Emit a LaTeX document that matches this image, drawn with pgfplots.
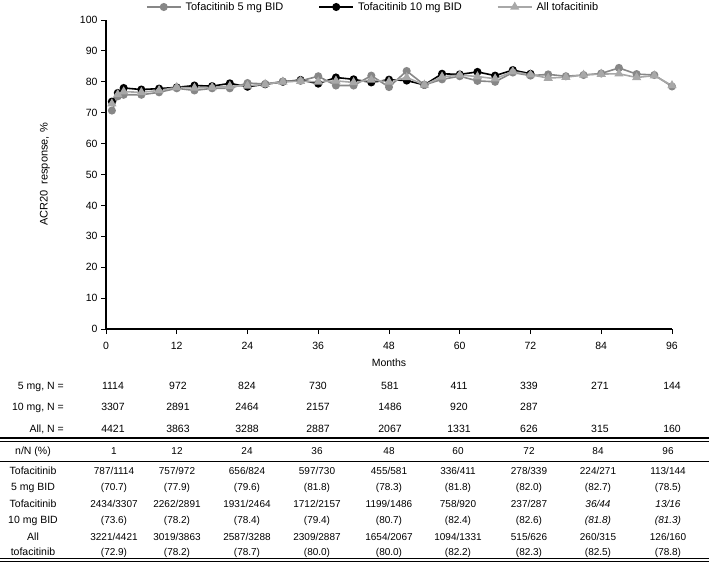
\documentclass[border=0pt]{standalone}
\usepackage{fontspec}
\setmainfont{Liberation Sans}
\usepackage{pgfplots}
\pgfplotsset{compat=1.18}
\definecolor{gfive}{gray}{0.53}
\definecolor{gall}{gray}{0.66}

\pgfplotstableread{
m v
1 70.7
2 75.3
3 75.8
6 75.8
9 76.6
12 77.9
15 77.2
18 77.9
21 77.9
24 79.6
27 79.3
30 80.1
33 80.3
36 81.8
39 78.8
42 78.8
45 82.0
48 78.3
51 83.5
54 79.0
57 80.8
60 81.8
63 80.3
66 80.0
69 83.0
72 82.0
75 82.4
78 81.8
81 82.2
84 82.7
87 84.5
90 82.5
93 82.2
96 78.5
}\tfive

\pgfplotstableread{
m v
1 73.6
2 76.4
3 78.0
6 77.5
9 77.8
12 78.2
15 78.8
18 78.6
21 79.5
24 78.4
27 79.2
30 80.0
33 80.6
36 79.4
39 81.4
42 80.8
45 79.8
48 80.7
51 80.4
54 79.0
57 82.6
60 82.4
63 83.2
66 82.0
69 83.8
72 82.6
}\tten

\pgfplotstableread{
m v
1 72.9
2 75.9
3 76.8
6 76.6
9 77.2
12 78.2
15 78.0
18 78.2
21 78.6
24 78.7
27 79.2
30 80.0
33 80.2
36 80.0
39 80.3
42 79.8
45 80.6
48 80.0
51 81.4
54 79.0
57 81.6
60 82.2
63 81.7
66 81.0
69 83.3
72 82.3
75 81.2
78 81.5
81 82.2
84 82.5
87 82.6
90 81.4
93 82.0
96 78.8
}\tall

\begin{document}
\begin{tikzpicture}
\useasboundingbox (0pt,0pt) rectangle (709pt,-563pt);
\begin{axis}[
  at={(106pt,-329pt)}, anchor=south west,
  scale only axis, width=566pt, height=309pt,
  xmin=0, xmax=96, ymin=0, ymax=100,
  axis x line*=bottom, axis y line*=left,
  xtick={0,12,...,96}, ytick={0,10,...,100},
  tick align=outside, major tick length=5pt,
  tick style={black, line width=0.9pt},
  axis line style={black, line width=1.1pt},
  ticklabel style={font=\fontsize{10.5}{12}\selectfont},
  xticklabel style={yshift=-5pt},
  /pgf/number format/assume math mode=true,
  xlabel={Months},
  xlabel style={font=\fontsize{10.5}{12}\selectfont, at={(axis description cs:0.5,0)}, anchor=center, yshift=-34pt},
  ylabel={ACR20\ \ response, \%},
  ylabel style={font=\fontsize{11}{13}\selectfont, at={(axis description cs:-0.108,0.5)}, anchor=center},
  clip=false,
  legend columns=3,
  legend style={draw=none, fill=none, font=\fontsize{11}{13}\selectfont,
    at={(axis description cs:0.472,1)}, anchor=center, yshift=13pt,
    /tikz/every even column/.append style={column sep=33pt},
    /tikz/every odd column/.append style={column sep=2pt}},
  legend cell align=left,
  legend image code/.code={\draw[mark repeat=2,mark phase=2] plot coordinates {(0pt,0pt) (17pt,0pt) (34pt,0pt)};},
]
\addplot[color=black, line width=1.6pt, mark=*, mark size=3.2pt, mark options={fill=black, draw=black}, forget plot] table[x=m,y=v] {\tten};
\addplot[color=gfive, line width=1.6pt, mark=*, mark size=3.2pt, mark options={fill=gfive, draw=gfive}] table[x=m,y=v] {\tfive};
\addlegendentry{Tofacitinib 5 mg BID}
\addlegendimage{color=black, line width=1.6pt, mark=*, mark size=3.2pt, mark options={fill=black, draw=black}}
\addlegendentry{Tofacitinib 10 mg BID}
\addplot[color=gall, line width=1.6pt, mark=triangle*, mark size=3.8pt, mark options={fill=gall, draw=gall}] table[x=m,y=v] {\tall};
\addlegendentry{All tofacitinib}
\end{axis}

\begin{scope}[font=\fontsize{10.5}{12}\selectfont, every node/.style={anchor=base, inner sep=0pt}]
% N at risk rows
\node[anchor=base east] at (64pt,-389pt) {5 mg, N =};
\node[anchor=base east] at (64pt,-410pt) {10 mg, N =};
\node[anchor=base east] at (64pt,-432pt) {All, N =};
\foreach \x/\a/\b/\c in {113/1114/3307/4421, 178/972/2891/3863, 247/824/2464/3288, 318/730/2157/2887, 390/581/1486/2067, 459/411/920/1331, 529/339/287/626, 600/271//315, 672/144//160}{
  \node at (\x pt,-389pt) {\a};
  \node at (\x pt,-410pt) {\b};
  \node at (\x pt,-432pt) {\c};
}
\end{scope}
\begin{scope}[font=\fontsize{10}{12}\selectfont, every node/.style={anchor=base, inner sep=0pt}]
% table rules
\draw[line width=1.4pt] (0pt,-438pt) -- (709pt,-438pt);
\draw[line width=0.5pt] (0pt,-441pt) -- (709pt,-441pt);
\draw[line width=0.7pt] (0pt,-461pt) -- (709pt,-461pt);
\draw[line width=0.5pt] (0pt,-558.5pt) -- (709pt,-558.5pt);
\draw[line width=1.4pt] (0pt,-561.5pt) -- (709pt,-561.5pt);
% header
\node[font=\fontsize{10.5}{12}\selectfont] at (33pt,-454pt) {n/N (\%)};
\foreach \x/\t in {114/1, 177/12, 247/24, 317/36, 389/48, 458/60, 529/72, 598/84, 668/96}{
  \node at (\x pt,-454pt) {\t};
}
% row labels
\begin{scope}[font=\fontsize{10.5}{12}\selectfont]
\node at (33pt,-474pt) {Tofacitinib};
\node at (33pt,-490pt) {5 mg BID};
\node at (33pt,-507pt) {Tofacitinib};
\node at (33pt,-523pt) {10 mg BID};
\node at (33pt,-540pt) {All};
\node at (33pt,-555pt) {tofacitinib};
\end{scope}
% row 1
\foreach \x/\a/\b in {114/787\slash1114/70.7, 177/757\slash972/77.9, 247/656\slash824/79.6, 317/597\slash730/81.8, 389/455\slash581/78.3, 458/336\slash411/81.8, 529/278\slash339/82.0, 598/224\slash271/82.7, 668/113\slash144/78.5}{
  \node at (\x pt,-474pt) {\a};
  \node at (\x pt,-490pt) {(\b)};
}
% row 2
\foreach \x/\a/\b in {114/2434\slash3307/73.6, 177/2262\slash2891/78.2, 247/1931\slash2464/78.4, 317/1712\slash2157/79.4, 389/1199\slash1486/80.7, 458/758\slash920/82.4, 529/237\slash287/82.6}{
  \node at (\x pt,-507pt) {\a};
  \node at (\x pt,-523pt) {(\b)};
}
\node at (598pt,-507pt) {\itshape 36/44};
\node at (598pt,-523pt) {\itshape (81.8)};
\node at (668pt,-507pt) {\itshape 13/16};
\node at (668pt,-523pt) {\itshape (81.3)};
% row 3
\foreach \x/\a/\b in {114/3221\slash4421/72.9, 177/3019\slash3863/78.2, 247/2587\slash3288/78.7, 317/2309\slash2887/80.0, 389/1654\slash2067/80.0, 458/1094\slash1331/82.2, 529/515\slash626/82.3, 598/260\slash315/82.5, 668/126\slash160/78.8}{
  \node at (\x pt,-540pt) {\a};
  \node at (\x pt,-555pt) {(\b)};
}
\end{scope}
\end{tikzpicture}
\end{document}
